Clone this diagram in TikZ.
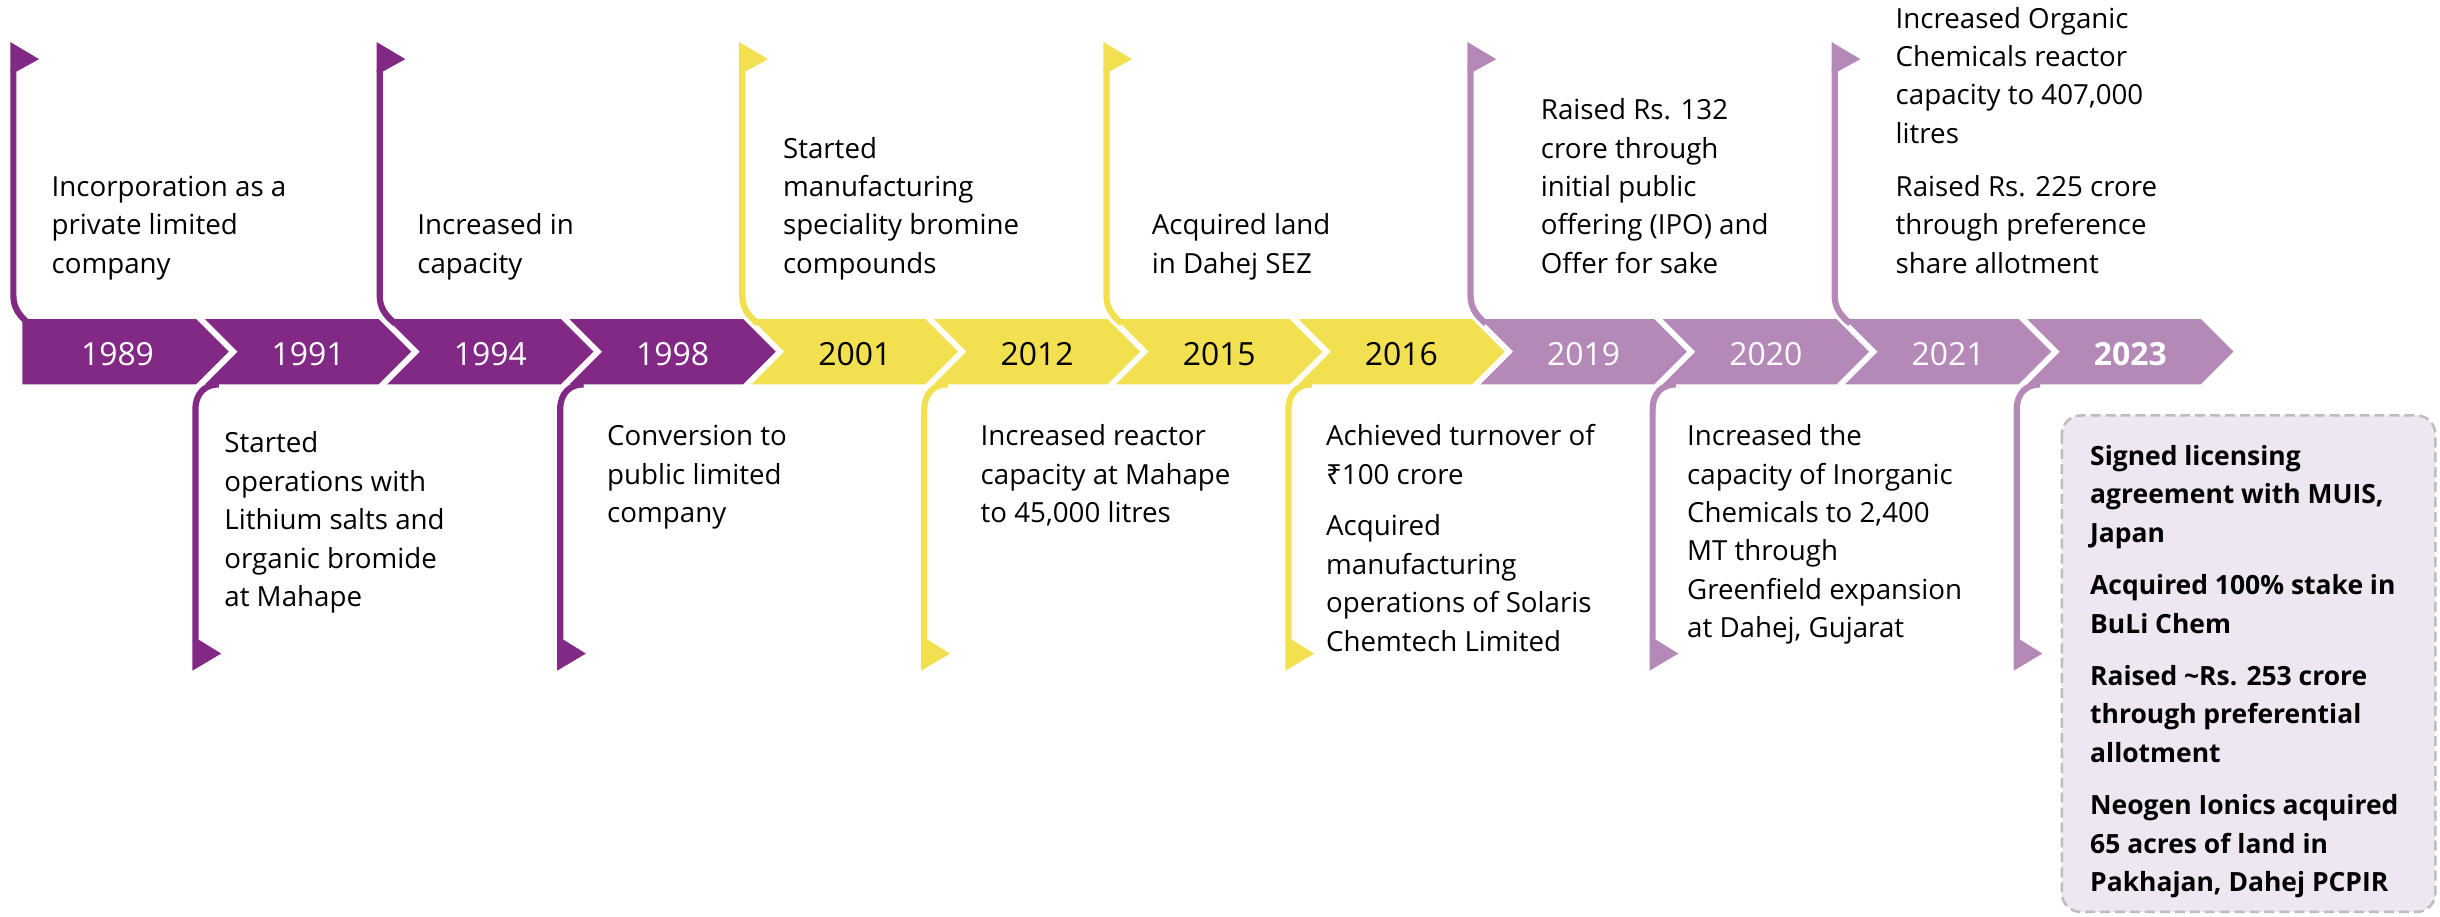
\documentclass[tikz,border=0pt]{standalone}
\usepackage{fontspec}
\setmainfont{Open Sans}
\newfontfamily\rupeefont{Noto Sans}
\definecolor{cpurple}{HTML}{822985}
\definecolor{cyellow}{HTML}{F2E050}
\definecolor{clav}{HTML}{B489B8}
\definecolor{cboxfill}{HTML}{EEE6F0}
\definecolor{cboxline}{HTML}{BDBDBD}
\begin{document}
\begin{tikzpicture}[x=1pt,y=-1pt,
  yeartext/.style={font=\fontsize{20.5}{24}\selectfont, anchor=base, inner sep=0pt},
  bodytext/.style={font=\fontsize{17.8}{24.7}\selectfont, align=left, inner sep=0pt, anchor=base west},
  boxtext/.style={font=\bfseries\fontsize{17}{24.7}\selectfont, align=left, inner sep=0pt, anchor=base west},
  flagline/.style={line width=4pt},
  eventbox/.style={draw=cboxline, fill=cboxfill, line width=1.6pt, dash pattern=on 6.4pt off 3.2pt, rounded corners=12pt}
]
\useasboundingbox (0,0) rectangle (1568,589);

% chevrons
\fill[cpurple] (14.4,205) -- (126,205) -- (147,226) -- (126,247) -- (14.4,247) -- cycle;
\node[yeartext, text=white] (y1989) at (75.5,234.6) {1989};
\foreach \i/\col/\tcol/\yr in {1/cpurple/white/1991, 2/cpurple/white/1994, 3/cpurple/white/1998,
  4/cyellow/black/2001, 5/cyellow/black/2012, 6/cyellow/black/2015, 7/cyellow/black/2016,
  8/clav/white/2019, 9/clav/white/2020, 10/clav/white/2021}{
  \pgfmathsetmacro\L{14.6+117.1*\i}
  \fill[\col] (\L,205) -- ++(111.6,0) -- ++(21,21) -- ++(-21,21) -- ++(-111.6,0) -- ++(21,-21) -- cycle;
  \node[yeartext, text=\tcol] (y\yr) at (\L+66.3,234.6) {\yr};
}
\pgfmathsetmacro\L{14.6+117.1*11}
\fill[clav] (\L,205) -- ++(111.6,0) -- ++(21,21) -- ++(-21,21) -- ++(-111.6,0) -- ++(21,-21) -- cycle;
\node[yeartext, text=white, font=\bfseries\fontsize{20.5}{24}\selectfont] (y2023) at (\L+66.3,234.6) {2023};

% top flags
\foreach \c/\col in {8.6/cpurple, 244/cpurple, 477/cyellow, 711/cyellow, 945/clav, 1179/clav}{
  \fill[\col] (\c-2,27) -- (\c+16.5,38) -- (\c+2,46) -- (\c-2,46) -- cycle;
  \draw[\col, flagline] (\c,45) -- (\c,190) .. controls (\c,198) and (\c+4,203) .. (\c+10,208);
}
% bottom flags
\foreach \c/\col in {125.6/cpurple, 360/cpurple, 594/cyellow, 828/cyellow, 1062/clav, 1296/clav}{
  \draw[\col, flagline] (\c+15,247) .. controls (\c+6,247) and (\c,253) .. (\c,263) -- (\c,412);
  \fill[\col] (\c-2,431) -- (\c+16.5,420) -- (\c+2,411) -- (\c-2,411) -- cycle;
}

% top texts (anchor = baseline of last line)
\node[bodytext] (t1989) at (33,175.7) {Incorporation as a\\private limited\\company};
\node[bodytext] (t1994) at (268,175.7) {Increased in\\capacity};
\node[bodytext] (t2001) at (503,175.7) {Started\\manufacturing\\speciality bromine\\compounds};
\node[bodytext] (t2015) at (740,175.7) {Acquired land\\in Dahej SEZ};
\node[bodytext] (t2019) at (990,175.7) {Raised Rs. 132\\crore through\\initial public\\offering (IPO) and\\Offer for sake};
\node[bodytext] (t2021) at (1218,175.7) {Increased Organic\\Chemicals reactor\\capacity to 407,000\\litres\\[9.5pt]Raised Rs. 225 crore\\through preference\\share allotment};

% bottom texts
\node[bodytext] (t1991) at (144,389.8) {Started\\operations with\\Lithium salts and\\organic bromide\\at Mahape};
\node[bodytext] (t1998) at (390,335.8) {Conversion to\\public limited\\company};
\node[bodytext] (t2012) at (630,335.8) {Increased reactor\\capacity at Mahape\\to 45,000 litres};
\node[bodytext] (t2016) at (852,418.5) {Achieved turnover of\\{\rupeefont ₹}100 crore\\[8.6pt]Acquired\\manufacturing\\operations of Solaris\\Chemtech Limited};
\node[bodytext] (t2020) at (1084,409.9) {Increased the\\capacity of Inorganic\\Chemicals to 2,400\\MT through\\Greenfield expansion\\at Dahej, Gujarat};

% 2023 box
\draw[eventbox] (1325,267) rectangle (1565,586);
\node[boxtext] (t2023) at (1343,573) {Signed licensing\\agreement with MUIS,\\Japan\\[9pt]Acquired 100\% stake in\\BuLi Chem\\[9pt]Raised \textasciitilde Rs. 253 crore\\through preferential\\allotment\\[9pt]Neogen Ionics acquired\\65 acres of land in\\Pakhajan, Dahej PCPIR};
\end{tikzpicture}
\end{document}
